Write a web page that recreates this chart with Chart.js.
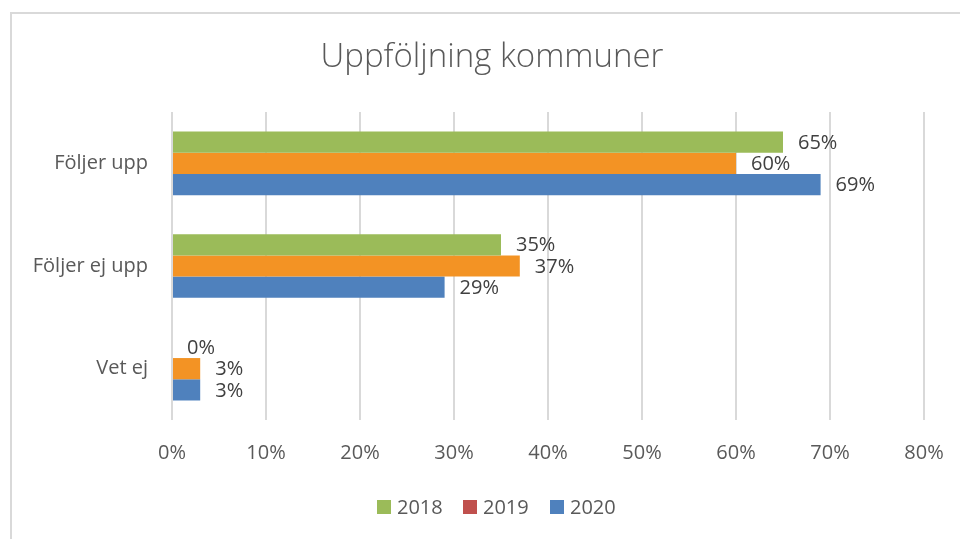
<!DOCTYPE html>
<html>
<head>
<meta charset="utf-8">
<script src="https://cdn.jsdelivr.net/npm/chart.js@4.4.0/dist/chart.umd.min.js"></script>
<style>
  body { margin: 0; background: #fff; }
  #wrap { position: relative; width: 960px; height: 539px; }
  #frame { position: absolute; left: 10px; top: 12px; right: -20px; bottom: -20px;
           border-left: 2px solid #d9d9d9; border-top: 2px solid #d9d9d9; }
  canvas { position: absolute; left: 0; top: 0; }
</style>
</head>
<body>
<div id="wrap">
  <div id="frame"></div>
  <canvas id="chart" width="960" height="539"></canvas>
</div>
<script>
const categories = ['Följer upp', 'Följer ej upp', 'Vet ej'];
const years = ['2018', '2019', '2020'];
const v2018 = [65, 35, 0];
const v2019 = [60, 37, 3];
const v2020 = [69, 29, 3];
const xTicks = [0, 10, 20, 30, 40, 50, 60, 70, 80];

const barColors = ['#9BBB59', '#F39324', '#4F81BD'];
const legendColors = ['#9BBB59', '#C0504D', '#4F81BD'];
const FONT = "'Open Sans', sans-serif";

// value labels to the right of every bar
const valueLabels = {
  id: 'valueLabels',
  afterDatasetsDraw(chart) {
    const ctx = chart.ctx;
    ctx.save();
    ctx.font = '20px ' + FONT;
    ctx.fillStyle = '#404040';
    ctx.textAlign = 'left';
    ctx.textBaseline = 'middle';
    chart.data.datasets.forEach((ds, i) => {
      chart.getDatasetMeta(i).data.forEach((bar, j) => {
        ctx.fillText(ds.data[j] + '%', bar.x + 15, bar.y + 1);
      });
    });
    ctx.restore();
  }
};

// title and legend, placed like the original
const titleLegend = {
  id: 'titleLegend',
  afterDraw(chart) {
    const ctx = chart.ctx;
    ctx.save();
    ctx.fillStyle = '#595959';
    ctx.font = '300 33px ' + FONT;
    ctx.textAlign = 'center';
    ctx.textBaseline = 'middle';
    ctx.fillText('Uppföljning kommuner', 492, 58);

    ctx.font = '20px ' + FONT;
    ctx.textAlign = 'left';
    const xs = [377, 463, 550];
    years.forEach((y, i) => {
      ctx.fillStyle = legendColors[i];
      ctx.fillRect(xs[i], 500, 14, 14);
      ctx.fillStyle = '#595959';
      ctx.fillText(y, xs[i] + 20, 508);
    });
    ctx.restore();
  }
};

new Chart(document.getElementById('chart'), {
  type: 'bar',
  data: {
    labels: categories,
    datasets: [
      { label: years[0], data: v2018, backgroundColor: barColors[0] },
      { label: years[1], data: v2019, backgroundColor: barColors[1] },
      { label: years[2], data: v2020, backgroundColor: barColors[2] }
    ]
  },
  options: {
    indexAxis: 'y',
    responsive: false,
    animation: false,
    categoryPercentage: 0.62,
    barPercentage: 1,
    layout: { padding: { top: 112, right: 36, bottom: 69, left: 0 } },
    plugins: {
      legend: { display: false },
      title: { display: false },
      tooltip: { enabled: false }
    },
    scales: {
      x: {
        min: 0,
        max: 80,
        afterFit(scale) {
          scale.height = 50;
          scale.paddingLeft = 0;
          scale.paddingRight = 0;
        },
        afterBuildTicks(scale) { scale.ticks = xTicks.map(v => ({ value: v })); },
        grid: { color: '#d9d9d9', lineWidth: 2, drawTicks: false },
        border: { display: false },
        ticks: {
          padding: 21,
          color: '#595959',
          font: { family: FONT, size: 20 },
          callback: v => v + '%'
        }
      },
      y: {
        afterFit(scale) { scale.width = 172; },
        grid: { display: false, drawTicks: false },
        border: { display: false },
        ticks: {
          padding: 24,
          color: '#595959',
          font: { family: FONT, size: 20 }
        }
      }
    }
  },
  plugins: [valueLabels, titleLegend]
});
</script>
</body>
</html>
